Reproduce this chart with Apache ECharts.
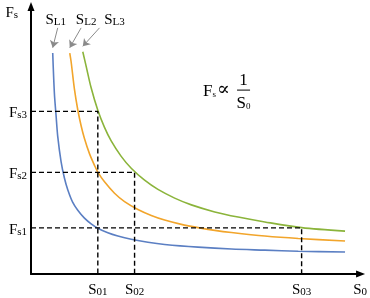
<!DOCTYPE html>
<html><head><meta charset="utf-8">
<script src="https://cdn.jsdelivr.net/npm/echarts@6/dist/echarts.min.js"></script>
<style>html,body{margin:0;padding:0;background:#fff}#c{width:370px;height:298px}</style>
</head><body><div id="c"></div>
<script>
// ---- data ----
const blueX = [0.65,0.7,0.75,0.8,0.9,1.0,1.1,1.25,1.4,1.6,1.8,2.0,2.3,2.6,3.0,3.5,4.0,5.0,6.0,7.0,8.0,9.4];
const blueY = [8.15,6.67,5.85,5.08,4.15,3.54,3.11,2.64,2.35,2.06,1.85,1.69,1.52,1.40,1.28,1.17,1.09,0.99,0.92,0.88,0.84,0.81];
const orangeX = [1.16,1.2,1.3,1.4,1.5,1.6,1.75,1.9,2.0,2.2,2.5,2.8,3.2,3.6,4.0,4.5,5.0,5.5,6.0,7.0,8.0,9.4];
const orangeY = [8.15,7.84,6.82,6.06,5.47,5.0,4.44,4.01,3.76,3.40,2.98,2.67,2.38,2.16,1.99,1.83,1.71,1.61,1.53,1.40,1.31,1.22];
const greenX = [1.55,1.65,1.8,2.0,2.2,2.4,2.7,3.0,3.4,3.8,4.3,4.8,5.5,6.2,7.0,8.1,9.4];
const greenY = [8.2,7.67,6.87,6.04,5.41,4.91,4.34,3.90,3.46,3.12,2.80,2.55,2.29,2.10,1.92,1.71,1.58];
const curveNames = ['L1','L2','L3'];
const fsTicks = [1.7, 3.75, 6.0];          // Fs1, Fs2, Fs3
const fsTickLabels = ['s1','s2','s3'];
const s0Ticks = [2.0, 3.1, 8.1];           // S01, S02, S03
const s0TickLabels = ['01','02','03'];
const axisEnd = 9.85;

// ---- styling ----
const font = '"Liberation Serif","Times New Roman",serif';
const rich = {
  m:{fontSize:15, lineHeight:19, fontFamily:font, color:'#000', verticalAlign:'bottom'},
  s:{fontSize:11, lineHeight:11, fontFamily:font, color:'#000', verticalAlign:'bottom'}
};
const colors = ['#5B7FC3','#F2A52B','#8BB43B'];
const zip = (xs, ys) => xs.map((x, i) => [x, ys[i]]);
const curves = [zip(blueX, blueY), zip(orangeX, orangeY), zip(greenX, greenY)];
const arrowTail = [[0.15,0.93],[0.34,0.93],[0.5,0.88]];
const labelOff = [[0.09,1.3],[0.49,1.3],[0.95,1.25]];

function findIdx(arr, v){ for (let i=0;i<arr.length;i++) if (Math.abs(arr[i]-v)<1e-6) return i; return -1; }

const series = [];
// dashed guide lines: Fs3<->S01, Fs2<->S02, Fs1<->S03
for (let i = 0; i < 3; i++) {
  const fs = fsTicks[2 - i], s0 = s0Ticks[i];
  series.push({type:'line', silent:true, symbol:'none', z:3,
    lineStyle:{color:'#000', width:1.4, type:[5,3]},
    data:[[0, fs],[s0, fs],[s0, 0]]});
}
curves.forEach((d, i) => {
  const st = d[0];
  series.push({type:'line', name:'S'+curveNames[i], data:d, symbol:'none', smooth:0.3, z:2,
    lineStyle:{color:colors[i], width:1.6},
    markLine:{silent:true, symbol:['none','arrow'], symbolSize:7,
      label:{show:false},
      lineStyle:{color:'#8a8a8a', width:1, type:'solid'},
      data:[[{coord:[st[0]+arrowTail[i][0], st[1]+arrowTail[i][1]]},{coord:[st[0], st[1]+0.2]}]]}
  });
});

const chart = echarts.init(document.getElementById('c'));
chart.setOption({
  animation:false,
  grid:{left:31, right:8, top:7, bottom:22, containLabel:false},
  xAxis:{type:'value', min:0, max:axisEnd, splitLine:{show:false},
    axisLine:{show:true, onZero:false, lineStyle:{color:'#000', width:2}},
    axisTick:{show:false},
    axisLabel:{show:true, customValues:s0Ticks.concat([axisEnd]), margin:5, rich:rich,
      formatter:v => { const k = findIdx(s0Ticks, v); return k>=0 ? '{m|S}{s|'+s0TickLabels[k]+'}' : '{m|S}{s|0}'; }}},
  yAxis:{type:'value', min:0, max:axisEnd, splitLine:{show:false},
    name:'{m|F}{s|s}', nameLocation:'end', nameGap:-14,
    nameTextStyle:{rich:rich, align:'right', padding:[0,13,0,0]},
    axisLine:{show:true, onZero:false, lineStyle:{color:'#000', width:2}},
    axisTick:{show:false},
    axisLabel:{show:true, customValues:fsTicks, margin:4, rich:rich,
      formatter:v => { const k = findIdx(fsTicks, v); return '{m|F}{s|'+fsTickLabels[k]+'}'; }}},
  series:series
});

// annotations: axis arrowheads, S_L labels, formula
const g = [];
const yTop = chart.convertToPixel({gridIndex:0}, [0, axisEnd]);
const xEnd = chart.convertToPixel({gridIndex:0}, [axisEnd, 0]);
g.push({type:'polygon', shape:{points:[[yTop[0], yTop[1]-5],[yTop[0]-3.5, yTop[1]+4],[yTop[0]+3.5, yTop[1]+4]]}, style:{fill:'#000'}});
g.push({type:'polygon', shape:{points:[[xEnd[0]+5, xEnd[1]],[xEnd[0]-4, xEnd[1]-3.5],[xEnd[0]-4, xEnd[1]+3.5]]}, style:{fill:'#000'}});
curves.forEach((d, i) => {
  const p = chart.convertToPixel({gridIndex:0}, [d[0][0]+labelOff[i][0], d[0][1]+labelOff[i][1]]);
  g.push({type:'text', x:p[0], y:p[1], style:{text:'{m|S}{s|'+curveNames[i]+'}', rich:rich, align:'center', verticalAlign:'middle'}});
});
const fp = chart.convertToPixel({gridIndex:0}, [5.15, 6.6]);
const bigRich = {
  m:{fontSize:17, lineHeight:21, fontFamily:font, color:'#000', verticalAlign:'bottom'},
  s:{fontSize:9, lineHeight:9, fontFamily:font, color:'#000', verticalAlign:'bottom'},
  p:{fontSize:19, lineHeight:21, fontFamily:'"DejaVu Serif",serif', color:'#000', verticalAlign:'bottom', padding:[0,0,0,1]}
};
g.push({type:'text', x:fp[0], y:fp[1]-6, style:{text:'{m|F}{s|s}{p|∝}', rich:bigRich, align:'left', verticalAlign:'middle'}});
g.push({type:'line', shape:{x1:fp[0]+34, y1:fp[1]-5, x2:fp[0]+47, y2:fp[1]-5}, style:{stroke:'#000', lineWidth:1}});
g.push({type:'text', x:fp[0]+40.5, y:fp[1]-15, style:{text:'1', font:'17px '+font, fill:'#000', align:'center', verticalAlign:'middle'}});
g.push({type:'text', x:fp[0]+40.5, y:fp[1]+6, style:{text:'{m|S}{s|0}', rich:bigRich, align:'center', verticalAlign:'middle'}});
chart.setOption({graphic:g});
</script></body></html>
